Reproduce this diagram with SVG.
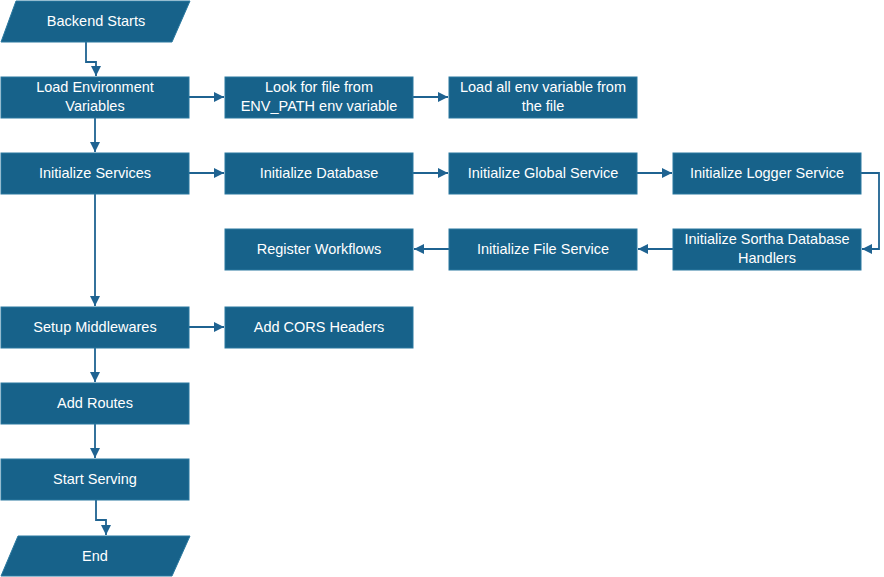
<svg xmlns="http://www.w3.org/2000/svg" width="884" height="577" viewBox="0 0 884 577">
<style>
.n{fill:#17628a;stroke:#2a79a0;stroke-width:1}
.t{fill:#ffffff;font-family:"Liberation Sans",Arial,sans-serif;font-size:14.5px;text-anchor:middle;dominant-baseline:central}
.c{fill:none;stroke:#1f6391;stroke-width:1.8}
</style>
<defs>
<marker id="a" viewBox="0 0 10 10" refX="10" refY="5" markerWidth="10" markerHeight="10" markerUnits="userSpaceOnUse" orient="auto">
<path d="M0,0L10,5L0,10Z" fill="#1f6391"/>
</marker>
</defs>
<rect width="884" height="577" fill="#ffffff"/>
<g id="connectors">
<path class="c" d="M86,42V62H96V76" marker-end="url(#a)"/>
<path class="c" d="M95,118V152" marker-end="url(#a)"/>
<path class="c" d="M95,194V306" marker-end="url(#a)"/>
<path class="c" d="M95,348V382" marker-end="url(#a)"/>
<path class="c" d="M95,424V458" marker-end="url(#a)"/>
<path class="c" d="M96,500V520H106V535" marker-end="url(#a)"/>
<path class="c" d="M189,97H224" marker-end="url(#a)"/>
<path class="c" d="M413,97H448" marker-end="url(#a)"/>
<path class="c" d="M189,173H224" marker-end="url(#a)"/>
<path class="c" d="M413,173H448" marker-end="url(#a)"/>
<path class="c" d="M637,173H672" marker-end="url(#a)"/>
<path class="c" d="M861,173H879V249H862" marker-end="url(#a)"/>
<path class="c" d="M673,249H638" marker-end="url(#a)"/>
<path class="c" d="M449,249H414" marker-end="url(#a)"/>
<path class="c" d="M189,327H224" marker-end="url(#a)"/>
</g>
<g id="backend-starts"><path class="n" d="M16,1H190L172,42H1Z"/><text class="t" x="96" y="21">Backend Starts</text></g>
<g id="load-env"><rect class="n" x="1" y="77" width="188" height="41"/><text class="t" x="95" y="87">Load Environment</text><text class="t" x="95" y="106">Variables</text></g>
<g id="look-file"><rect class="n" x="225" y="77" width="188" height="41"/><text class="t" x="319" y="87">Look for file from</text><text class="t" x="319" y="106">ENV_PATH env variable</text></g>
<g id="load-all"><rect class="n" x="449" y="77" width="188" height="41"/><text class="t" x="543" y="87">Load all env variable from</text><text class="t" x="543" y="106">the file</text></g>
<g id="init-services"><rect class="n" x="1" y="153" width="188" height="41"/><text class="t" x="95" y="173">Initialize Services</text></g>
<g id="init-db"><rect class="n" x="225" y="153" width="188" height="41"/><text class="t" x="319" y="173">Initialize Database</text></g>
<g id="init-global"><rect class="n" x="449" y="153" width="188" height="41"/><text class="t" x="543" y="173">Initialize Global Service</text></g>
<g id="init-logger"><rect class="n" x="673" y="153" width="188" height="41"/><text class="t" x="767" y="173">Initialize Logger Service</text></g>
<g id="init-sortha"><rect class="n" x="673" y="229" width="188" height="41"/><text class="t" x="767" y="239">Initialize Sortha Database</text><text class="t" x="767" y="258">Handlers</text></g>
<g id="init-file"><rect class="n" x="449" y="229" width="188" height="41"/><text class="t" x="543" y="249">Initialize File Service</text></g>
<g id="register-workflows"><rect class="n" x="225" y="229" width="188" height="41"/><text class="t" x="319" y="249">Register Workflows</text></g>
<g id="setup-middlewares"><rect class="n" x="1" y="307" width="188" height="41"/><text class="t" x="95" y="327">Setup Middlewares</text></g>
<g id="add-cors"><rect class="n" x="225" y="307" width="188" height="41"/><text class="t" x="319" y="327">Add CORS Headers</text></g>
<g id="add-routes"><rect class="n" x="1" y="383" width="188" height="41"/><text class="t" x="95" y="403">Add Routes</text></g>
<g id="start-serving"><rect class="n" x="1" y="459" width="188" height="41"/><text class="t" x="95" y="479">Start Serving</text></g>
<g id="end"><path class="n" d="M18,536H190L172,576H1Z"/><text class="t" x="95" y="556">End</text></g>
</svg>
